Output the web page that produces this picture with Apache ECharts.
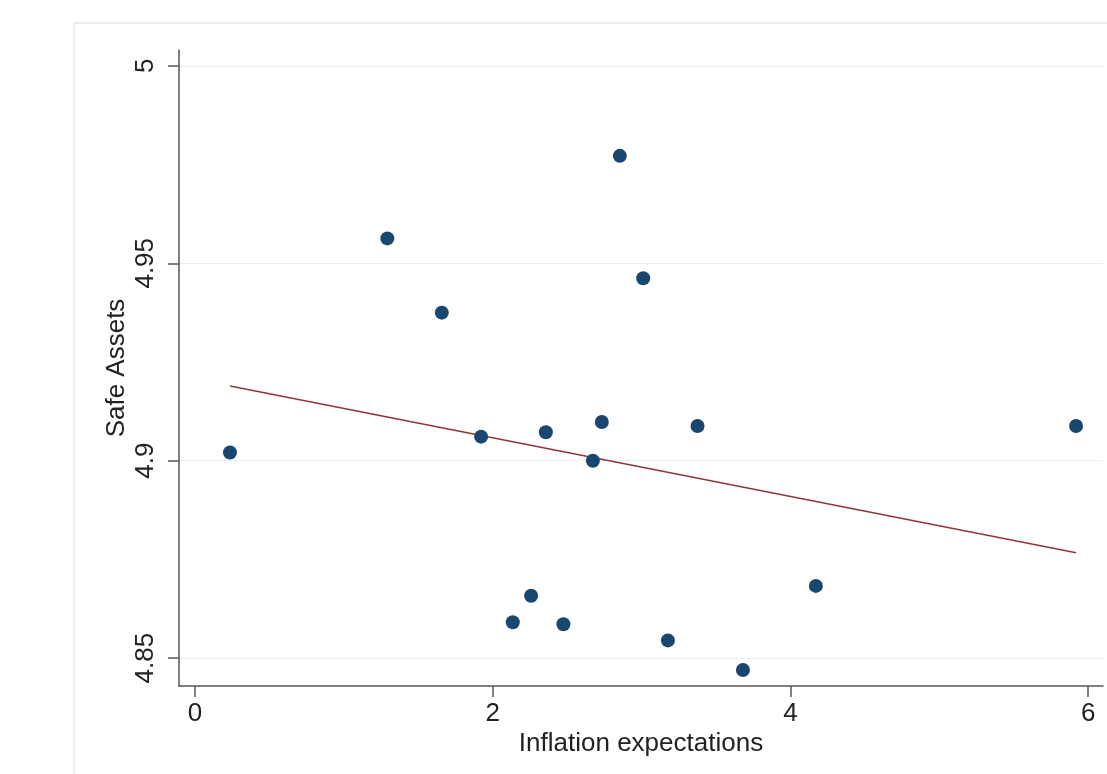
<!DOCTYPE html>
<html>
<head>
<meta charset="utf-8">
<script src="https://cdn.jsdelivr.net/npm/echarts@6/dist/echarts.min.js"></script>
<style>
  html, body { margin: 0; padding: 0; background: #ffffff; }
  #chart { width: 1107px; height: 774px; }
</style>
</head>
<body>
<div id="chart"></div>
<script>
// Inflation expectations (x) against safe assets (y)
const inflationExp = [0.235, 1.292, 1.658, 1.922, 2.135, 2.258, 2.357, 2.475, 2.673,
                      2.733, 2.854, 3.011, 3.177, 3.376, 3.681, 4.171, 5.919];
const safeAssets   = [4.9021, 4.9563, 4.9375, 4.9061, 4.8591, 4.8658, 4.9072, 4.8586, 4.9000,
                      4.9098, 4.9772, 4.9462, 4.8545, 4.9088, 4.8470, 4.8683, 4.9088];

// Fitted line end points
const fitX = [0.235, 5.919];
const fitY = [4.9189, 4.8767];

// Axis tick values
const xTicks = [0, 2, 4, 6];
const yTicks = [4.85, 4.9, 4.95, 5];

const points = inflationExp.map((x, i) => [x, safeAssets[i]]);
const fitLine = fitX.map((x, i) => [x, fitY[i]]);

const font = '"Liberation Sans", Arial, Helvetica, sans-serif';
const axisColor = '#555555';
const textColor = '#222222';

const chart = echarts.init(document.getElementById('chart'), null, { renderer: 'canvas' });

chart.setOption({
  backgroundColor: '#ffffff',
  animation: false,
  graphic: [{
    type: 'rect',
    shape: { x: 74, y: 23, width: 1100, height: 800 },
    style: { fill: 'none', stroke: '#e8e8e8', lineWidth: 1.5 },
    silent: true,
    z: -10
  }],
  grid: { left: 179, right: 4, top: 50, bottom: 88, containLabel: false },
  xAxis: {
    type: 'value',
    min: -0.1075,
    max: 6.10,
    name: 'Inflation expectations',
    nameLocation: 'middle',
    nameGap: 45,
    nameMoveOverlap: false,
    nameTextStyle: { fontFamily: font, fontSize: 26, color: textColor },
    axisLine: { show: true, onZero: false, lineStyle: { color: axisColor, width: 1.5 } },
    axisTick: { show: true, inside: false, length: 11, customValues: xTicks,
                lineStyle: { color: axisColor, width: 1.5 } },
    axisLabel: { customValues: xTicks, margin: 15, fontFamily: font, fontSize: 26, color: textColor },
    splitLine: { show: false }
  },
  yAxis: {
    type: 'value',
    min: 4.84296,
    max: 5.004,
    name: 'Safe Assets',
    nameLocation: 'middle',
    nameGap: 49,
    nameMoveOverlap: false,
    nameRotate: 90,
    nameTextStyle: { fontFamily: font, fontSize: 26, color: textColor },
    axisLine: { show: true, onZero: false, lineStyle: { color: axisColor, width: 1.5 } },
    axisTick: { show: true, inside: false, length: 11, customValues: yTicks,
                lineStyle: { color: axisColor, width: 1.5 } },
    axisLabel: { customValues: yTicks, rotate: 90, margin: 20, fontFamily: font, fontSize: 26,
                 color: textColor, formatter: v => String(+v.toFixed(2)) },
    splitLine: { show: true, lineStyle: { color: '#e6eeef', width: 1.2 } }
  },
  series: [
    {
      type: 'scatter',
      data: points,
      symbol: 'circle',
      symbolSize: 14,
      itemStyle: { color: '#1a476f', opacity: 1 },
      z: 3
    },
    {
      type: 'line',
      data: fitLine,
      symbol: 'none',
      lineStyle: { color: '#90353b', width: 1.5 },
      z: 2
    }
  ]
});
</script>
</body>
</html>
